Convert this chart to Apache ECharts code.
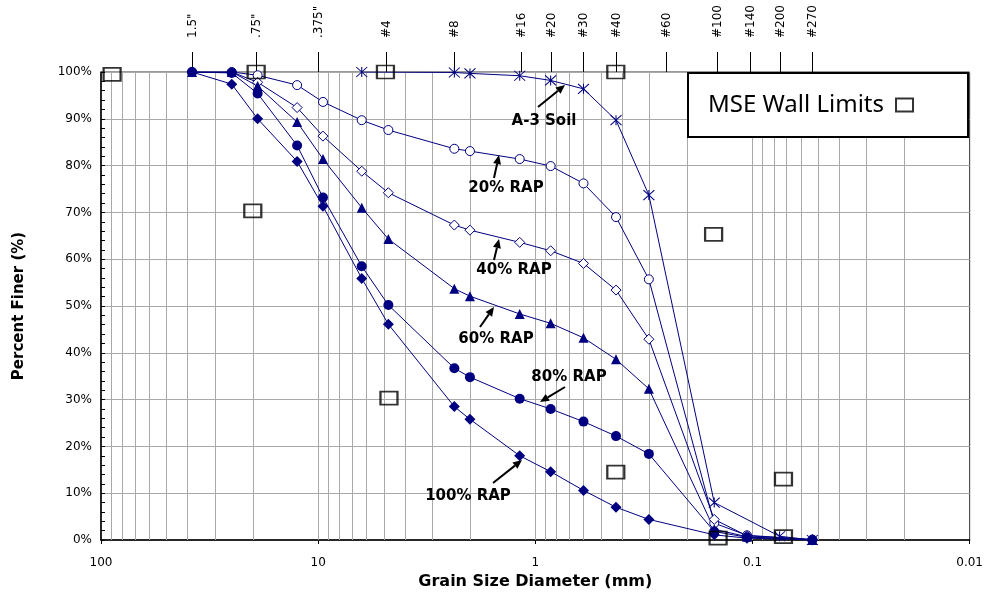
<!DOCTYPE html>
<html>
<head>
<meta charset="utf-8">
<title>Gradation Curves</title>
<script src="https://cdn.jsdelivr.net/npm/echarts@6/dist/echarts.min.js"></script>
<style>
  html, body { margin: 0; padding: 0; background: #fff; }
  #chart { width: 986px; height: 605px; }
</style>
</head>
<body>
<div id="chart"></div>
<script>
// Sieve openings (mm) used for the RAP blends
const sieveSizes = [38.1, 25, 19, 12.5, 9.5, 6.3, 4.75, 2.36, 2.0, 1.18, 0.85, 0.6, 0.425, 0.3, 0.15, 0.106, 0.053];

// Percent finer for each blend
const rap20  = [100, 100, 99.3, 97.2, 93.6, 89.7, 87.6, 83.6, 83.1, 81.4, 79.9, 76.2, 69.0, 55.7, 3.6, 1.0, 0.1];
const rap40  = [100, 100, 97.8, 92.4, 86.3, 78.8, 74.2, 67.3, 66.2, 63.6, 61.8, 59.1, 53.4, 42.9, 4.4, 0.9, 0.1];
const rap60  = [100, 100, 97.0, 89.3, 81.4, 71.0, 64.3, 53.7, 52.1, 48.3, 46.3, 43.2, 38.6, 32.3, 2.3, 0.7, 0];
const rap80  = [100, 99.8, 95.4, 84.3, 73.2, 58.5, 50.2, 36.7, 34.8, 30.2, 28.0, 25.3, 22.2, 18.4, 1.8, 0.6, 0];
const rap100 = [100, 97.4, 90.0, 80.9, 71.3, 55.9, 46.1, 28.5, 25.8, 18.0, 14.6, 10.6, 7.0, 4.4, 1.1, 0.4, 0];

// A-3 soil gradation
const soilSizes = [6.3, 2.36, 2.0, 1.18, 0.85, 0.6, 0.425, 0.3, 0.15, 0.075, 0.053];
const soilA3    = [100, 99.9, 99.7, 99.2, 98.2, 96.4, 89.7, 73.7, 8.0, 0.8, 0];

// MSE wall gradation limits
const limitSizes    = [88.9, 19.3, 20.0, 4.9, 4.72, 0.426, 0.426, 0.151, 0.144, 0.072, 0.072];
const limitPercents = [99.5, 100, 70.3, 100, 30.3, 100, 14.5, 65.3, 0.4, 13.0, 0.7];

// Sieve designations along the top edge
const topSieveLabels = ['1.5"', '.75"', '.375"', '#4', '#8', '#16', '#20', '#30', '#40', '#60', '#100', '#140', '#200', '#270'];
const topSieveSizes  = [38.1, 19.4, 10, 4.85, 2.36, 1.16, 0.85, 0.6, 0.425, 0.25, 0.145, 0.103, 0.075, 0.053];

const NAVY = '#000080';
const pair = (xs, ys) => xs.map((x, i) => [x, ys[i]]);

// log-scale vertical grid: every 1..9 step of each decade
const logGrid = [];
[0.01, 0.1, 1, 10].forEach(dec => {
  for (let k = 1; k <= 9; k++) if (!(dec === 0.01 && k === 1)) logGrid.push(+(dec * k).toPrecision(3));
});

const chart = echarts.init(document.getElementById('chart'), null, { renderer: 'canvas' });

function arrow(x1, y1, x2, y2) {
  const a = Math.atan2(y2 - y1, x2 - x1);
  const len = 9, hw = 4;
  const bx = x2 - len * Math.cos(a), by = y2 - len * Math.sin(a);
  const px = -Math.sin(a) * hw, py = Math.cos(a) * hw;
  return [
    { type: 'line', shape: { x1, y1, x2: bx, y2: by }, style: { stroke: '#000', lineWidth: 2 }, z: 20 },
    { type: 'polygon', shape: { points: [[x2, y2], [bx + px, by + py], [bx - px, by - py]] }, style: { fill: '#000' }, z: 20 }
  ];
}

const labelFont = 'bold 15px "DejaVu Sans"';
function note(text, x, y) {
  return { type: 'text', x, y, z: 20, style: { text, font: labelFont, fill: '#000', align: 'center', verticalAlign: 'middle' } };
}

// fill: 'solid' (navy), 'open' (white with navy outline) or 'stroke' (outline only)
const lineSeries = (name, data, symbol, size, fill) => ({
  name, type: 'line', data, symbol, symbolSize: size, z: 5,
  lineStyle: { color: NAVY, width: 1 },
  itemStyle: fill === 'solid' ? { color: NAVY }
    : fill === 'open' ? { color: '#fff', borderColor: NAVY, borderWidth: 1 }
    : { color: NAVY, borderColor: NAVY, borderWidth: 1 },
  showSymbol: true, animation: false
});

const option = {
  animation: false,
  backgroundColor: '#fff',
  grid: { left: 101, right: 15, top: 72, bottom: 65, show: true, borderColor: '#333', borderWidth: 1 },
  legend: {
    data: ['MSE Wall Limits'],
    left: 688, top: 73,
    align: 'right',
    padding: [20, 54, 20, 20],
    itemWidth: 17, itemHeight: 13,
    borderColor: '#000', borderWidth: 2, backgroundColor: '#fff',
    textStyle: { fontFamily: 'Noto Sans', fontSize: 24, color: '#000', padding: [0, 7, 0, 0] },
    z: 30
  },
  xAxis: [{
    type: 'log', logBase: 10, min: 0.01, max: 100, inverse: true,
    name: 'Grain Size Diameter (mm)', nameLocation: 'middle', nameGap: 34,
    nameTextStyle: { fontFamily: 'DejaVu Sans', fontWeight: 'bold', fontSize: 16, color: '#000' },
    axisLine: { lineStyle: { color: '#000', width: 1.5 } },
    axisTick: { show: true, length: 4, lineStyle: { color: '#000' } },
    axisLabel: { margin: 17, fontFamily: 'DejaVu Sans', fontSize: 12, color: '#000',
      formatter: v => String(+v.toPrecision(3)) },
    splitLine: { show: false }
  }],
  yAxis: [{
    type: 'value', min: 0, max: 100, interval: 10,
    name: 'Percent Finer (%)', nameLocation: 'middle', nameGap: 74, nameRotate: 90,
    nameTextStyle: { fontFamily: 'DejaVu Sans', fontWeight: 'bold', fontSize: 15, color: '#000' },
    axisLine: { show: true, lineStyle: { color: '#000', width: 1.5 } },
    axisTick: { show: true, inside: true, length: 4, lineStyle: { color: '#000' } },
    minorTick: { show: true, splitNumber: 5, length: 4, lineStyle: { color: '#000' } },
    axisLabel: { formatter: '{value}%', margin: 9, fontFamily: 'DejaVu Sans', fontSize: 12, color: '#000' },
    splitLine: { show: true, lineStyle: { color: '#a9a9a9', width: 1 } }
  }],
  series: [
    {
      name: 'log grid', type: 'custom', silent: true, z: 1,
      data: logGrid.map(v => [v, 0]),
      renderItem(params, api) {
        const top = api.coord([api.value(0), 100]);
        const bot = api.coord([api.value(0), 0]);
        const x = Math.round(top[0]) + 0.5;
        return { type: 'line', shape: { x1: x, y1: top[1], x2: x, y2: bot[1] },
          style: { stroke: '#a9a9a9', lineWidth: 1 } };
      }
    },
    {
      name: 'sieve ticks', type: 'custom', silent: true, z: 2, clip: false,
      data: topSieveSizes.map(v => [v, 100]),
      renderItem(params, api) {
        const p = api.coord([api.value(0), 100]);
        const x = Math.round(p[0]) + 0.5;
        return { type: 'group', children: [
          { type: 'line', shape: { x1: x, y1: p[1] - 20, x2: x, y2: p[1] }, style: { stroke: '#000', lineWidth: 1 } },
          { type: 'text', x: x, y: p[1] - 34, rotation: Math.PI / 2,
            style: { text: topSieveLabels[params.dataIndex], align: 'left', verticalAlign: 'middle',
              font: '12px "DejaVu Sans"', fill: '#000' } }
        ] };
      }
    },
    lineSeries('A-3 Soil', pair(soilSizes, soilA3), 'path://M0,0L10,10M10,0L0,10M5,0L5,10', [11, 10], 'stroke'),
    lineSeries('20% RAP', pair(sieveSizes, rap20), 'circle', 9, 'open'),
    lineSeries('40% RAP', pair(sieveSizes, rap40), 'diamond', 10, 'open'),
    lineSeries('60% RAP', pair(sieveSizes, rap60), 'triangle', 10, 'solid'),
    lineSeries('80% RAP', pair(sieveSizes, rap80), 'circle', 10, 'solid'),
    lineSeries('100% RAP', pair(sieveSizes, rap100), 'diamond', 11, 'solid'),
    {
      name: 'MSE Wall Limits', type: 'scatter', z: 6,
      data: pair(limitSizes, limitPercents),
      symbol: 'rect', symbolSize: [17, 13],
      itemStyle: { color: 'rgba(0,0,0,0)', borderColor: '#000', borderWidth: 2 }
    }
  ],
  graphic: [
    note('A-3 Soil', 544, 121), ...arrow(538, 107, 565, 85),
    note('20% RAP', 506, 188), ...arrow(494, 178, 499, 155),
    note('40% RAP', 514, 270), ...arrow(494, 260, 499, 239),
    note('60% RAP', 496, 339), ...arrow(480, 327, 494, 307),
    note('80% RAP', 569, 377), ...arrow(565, 387, 540, 402),
    note('100% RAP', 468, 496), ...arrow(493, 483, 522, 460)
  ]
};

chart.setOption(option);
</script>
</body>
</html>
